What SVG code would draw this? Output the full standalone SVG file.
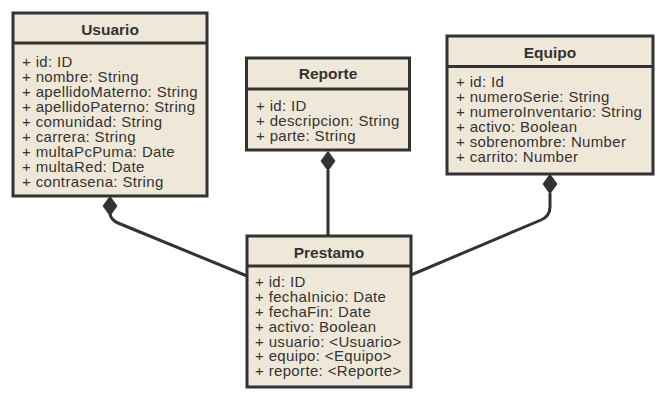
<svg xmlns="http://www.w3.org/2000/svg" width="664" height="400" viewBox="0 0 664 400">
<style>
.box{fill:#efe8d8;stroke:#333;stroke-width:3}
.sep{stroke:#333;stroke-width:3}
.title{font-family:"Liberation Sans",Arial,sans-serif;font-size:15.5px;font-weight:bold;fill:#333;text-anchor:middle}
.attr{font-family:"Liberation Sans",Arial,sans-serif;font-size:15px;letter-spacing:0.35px;fill:#333}
.edge{fill:none;stroke:#333;stroke-width:3;stroke-linejoin:round}
.dia{fill:#333;stroke:#333;stroke-width:1.5;stroke-linejoin:round}
</style>
<rect width="664" height="400" fill="#fff"/>
<g id="connectors">
<path class="edge" d="M110,214 Q111,220 118,223 L247,276"/>
<polygon class="dia" points="110,197 103.5,206 110,215 116.5,206"/>
<path class="edge" d="M328,170 L328,236"/>
<polygon class="dia" points="328,152 321.5,161 328,170 334.5,161"/>
<path class="edge" d="M550,193 L550,207 Q550,216 541,220 L411,275"/>
<polygon class="dia" points="550,175 543.5,184 550,193 556.5,184"/>
</g>
<g id="Usuario">
<rect class="box" x="13" y="13" width="194" height="183"/>
<line class="sep" x1="13" y1="43" x2="207" y2="43"/>
<text class="title" x="110" y="35">Usuario</text>
<text class="attr" x="22" y="66.5">+ id: ID</text>
<text class="attr" x="22" y="81.5">+ nombre: String</text>
<text class="attr" x="22" y="96.5">+ apellidoMaterno: String</text>
<text class="attr" x="22" y="111.5">+ apellidoPaterno: String</text>
<text class="attr" x="22" y="126.5">+ comunidad: String</text>
<text class="attr" x="22" y="141.5">+ carrera: String</text>
<text class="attr" x="22" y="156.5">+ multaPcPuma: Date</text>
<text class="attr" x="22" y="171.5">+ multaRed: Date</text>
<text class="attr" x="22" y="186.5">+ contrasena: String</text>
</g>
<g id="Reporte">
<rect class="box" x="246.5" y="58" width="163" height="92"/>
<line class="sep" x1="246.5" y1="89" x2="409.5" y2="89"/>
<text class="title" x="328" y="79">Reporte</text>
<text class="attr" x="256" y="110.5">+ id: ID</text>
<text class="attr" x="256" y="125.5">+ descripcion: String</text>
<text class="attr" x="256" y="140.5">+ parte: String</text>
</g>
<g id="Equipo">
<rect class="box" x="447" y="36" width="206" height="138"/>
<line class="sep" x1="447" y1="66.5" x2="653" y2="66.5"/>
<text class="title" x="550" y="57.5">Equipo</text>
<text class="attr" x="456" y="87.3">+ id: Id</text>
<text class="attr" x="456" y="102.3">+ numeroSerie: String</text>
<text class="attr" x="456" y="117.3">+ numeroInventario: String</text>
<text class="attr" x="456" y="132.3">+ activo: Boolean</text>
<text class="attr" x="456" y="147.3">+ sobrenombre: Number</text>
<text class="attr" x="456" y="162.3">+ carrito: Number</text>
</g>
<g id="Prestamo">
<rect class="box" x="247" y="236" width="164" height="151"/>
<line class="sep" x1="247" y1="266" x2="411" y2="266"/>
<text class="title" x="329" y="257.5">Prestamo</text>
<text class="attr" x="255" y="287.3">+ id: ID</text>
<text class="attr" x="255" y="302.1">+ fechaInicio: Date</text>
<text class="attr" x="255" y="316.9">+ fechaFin: Date</text>
<text class="attr" x="255" y="331.7">+ activo: Boolean</text>
<text class="attr" x="255" y="346.5">+ usuario: &lt;Usuario&gt;</text>
<text class="attr" x="255" y="361.3">+ equipo: &lt;Equipo&gt;</text>
<text class="attr" x="255" y="376.1">+ reporte: &lt;Reporte&gt;</text>
</g>
</svg>
